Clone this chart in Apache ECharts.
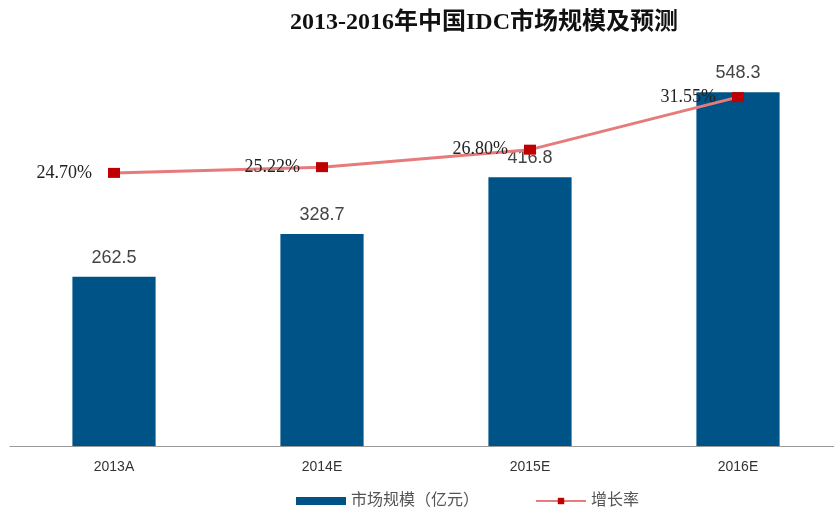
<!DOCTYPE html>
<html>
<head>
<meta charset="utf-8">
<script src="https://cdn.jsdelivr.net/npm/echarts@6/dist/echarts.min.js"></script>
<style>
  html, body { margin: 0; padding: 0; background: #fff; overflow: hidden; }
  /* the axis runs a bit past the right edge of the window */
  #chart { width: 842px; height: 511px; }
</style>
</head>
<body>
<div id="chart"></div>
<script>
const years = ["2013A", "2014E", "2015E", "2016E"];
const marketSize = [262.5, 328.7, 416.8, 548.3];
const growthRate = [24.70, 25.22, 26.80, 31.55];

const chart = echarts.init(document.getElementById("chart"));

const serif = "'Liberation Serif', 'Noto Sans CJK SC', serif";
const sans = "'Liberation Sans', 'Noto Sans CJK SC', sans-serif";

chart.setOption({
  backgroundColor: "#fff",
  animation: false,
  title: {
    text: "2013-2016年中国IDC市场规模及预测",
    left: 479,
    top: 6,
    textAlign: "center",
    textStyle: { fontFamily: serif, fontSize: 24, fontWeight: "bold", color: "#111" },
  },
  legend: {
    top: 488,
    left: 291,
    itemGap: 56,
    itemWidth: 50,
    itemHeight: 8,
    textStyle: { fontFamily: sans, fontSize: 16, color: "#555" },
    data: [
      { name: "市场规模（亿元）", icon: "rect" },
      { name: "增长率" },
    ],
  },
  grid: { left: 10, right: 0, top: 59, bottom: 65 },
  xAxis: {
    type: "category",
    data: years,
    axisLine: { lineStyle: { color: "#999" } },
    axisTick: { lineStyle: { color: "#999" }, length: 8 },
    axisLabel: { color: "#333", fontSize: 14, margin: 14, fontFamily: sans },
  },
  yAxis: [
    { type: "value", min: 0, max: 600, show: false },
    { type: "value", min: 0, max: 35, show: false },
  ],
  series: [
    {
      name: "市场规模（亿元）",
      type: "bar",
      data: marketSize,
      barWidth: "40%",
      itemStyle: { color: "#005386" },
      label: {
        show: true,
        position: "top",
        distance: 10,
        color: "#444",
        fontSize: 18,
        fontFamily: sans,
      },
    },
    {
      name: "增长率",
      type: "line",
      yAxisIndex: 1,
      data: growthRate,
      symbol: "rect",
      symbolSize: [12, 10],
      lineStyle: { color: "#E77A7A", width: 3 },
      itemStyle: { color: "#C00000" },
      label: {
        show: true,
        position: "left",
        distance: 16,
        color: "#222",
        fontSize: 18,
        fontFamily: serif,
        formatter: (p) => p.value.toFixed(2) + "%",
      },
    },
  ],
});
</script>
</body>
</html>
